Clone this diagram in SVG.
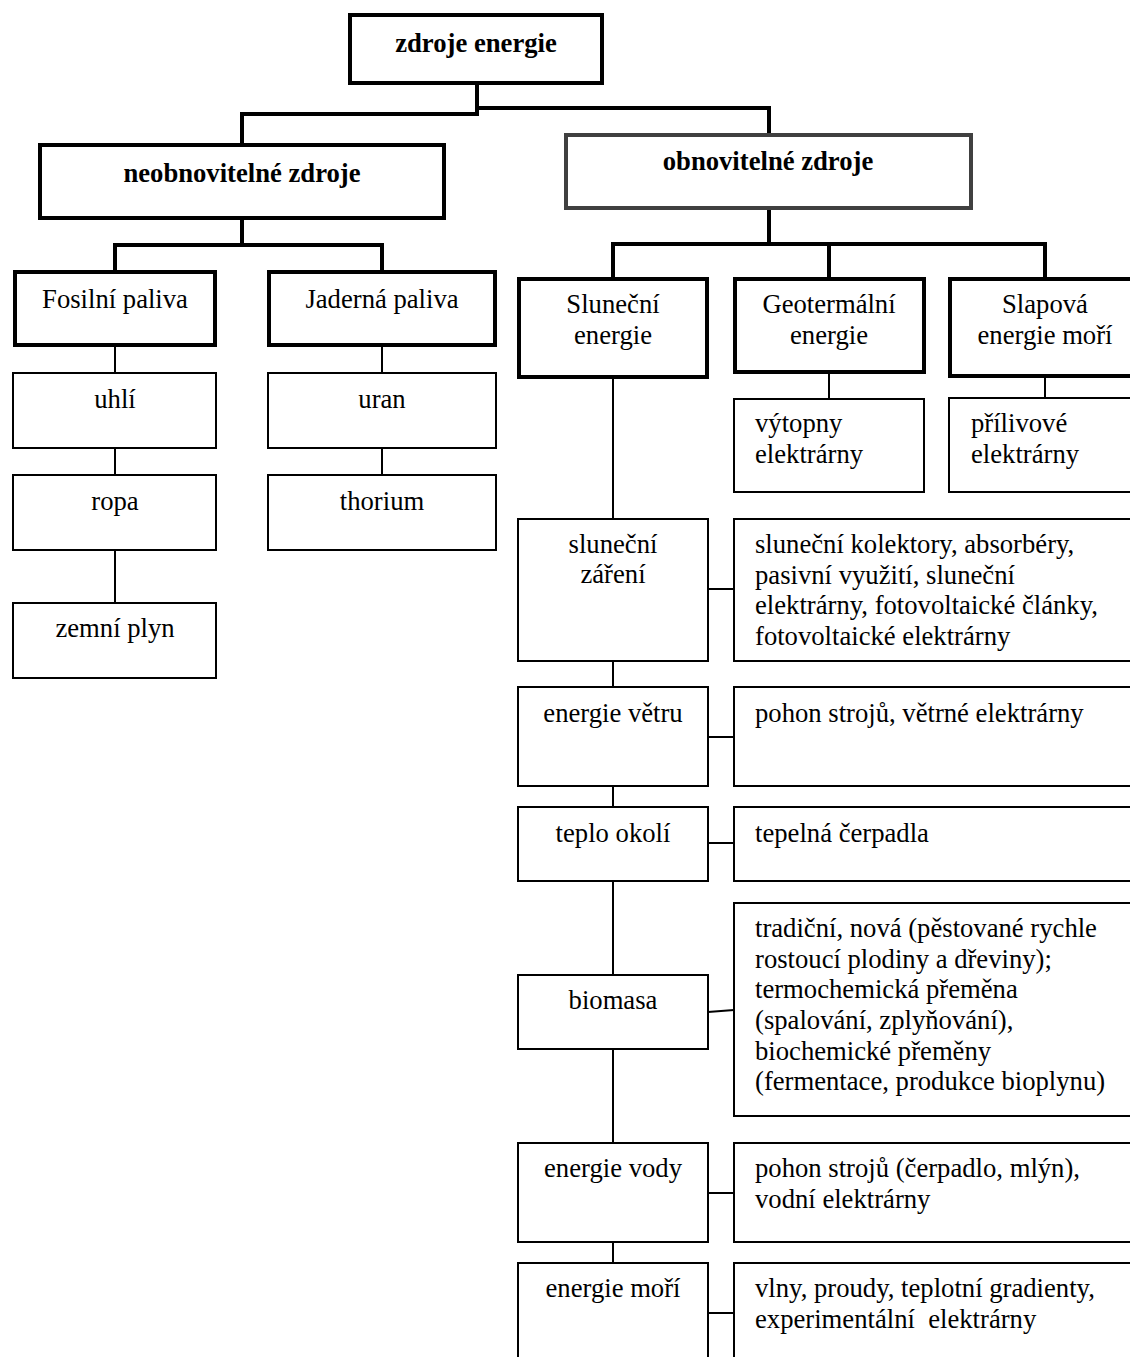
<svg xmlns="http://www.w3.org/2000/svg" width="1130" height="1357" viewBox="0 0 1130 1357">
<style>
text{font-family:"Liberation Serif","Times New Roman",serif;font-size:26.67px;fill:#000}
.b{font-weight:bold}
.c{text-anchor:middle}
.thick{fill:#fff;stroke:#000;stroke-width:4}
.gray{fill:#fff;stroke:#404040;stroke-width:4}
.thin{fill:#fff;stroke:#000;stroke-width:2}
.ct{fill:none;stroke:#000;stroke-width:4}
.cn{fill:none;stroke:#000;stroke-width:2}
</style>
<rect width="1130" height="1357" fill="#fff"/>
<g id="connectors">
<path class="ct" d="M477 85 V114 H242 V145 M477 108 H769 V135 M242 220 V245 M115 245 H382 M115 243 V272 M382 243 V272 M769 210 V244 M613 244 H1045 M613 242 V279 M829 242 V279 M1045 242 V279"/>
<path class="cn" d="M115 347 V373 M115 449 V475 M115 551 V603 M382 347 V373 M382 449 V475 M829 374 V399 M1045 378 V398 M613 379 V519 M613 662 V687 M613 787 V807 M613 882 V975 M613 1050 V1143 M613 1243 V1263 M708 589 H734 M708 737 H734 M708 843 H734 M708 1012 L734 1010 M708 1193 H734 M708 1313 H734"/>
</g>
<g id="zdroje-energie"><rect class="thick" x="350" y="15" width="252" height="68"/><text class="b c" x="476" y="52">zdroje energie</text></g>
<g id="neobnovitelne"><rect class="thick" x="40" y="145" width="404" height="73"/><text class="b c" x="242" y="182">neobnovitelné zdroje</text></g>
<g id="obnovitelne"><rect class="gray" x="566" y="135" width="405" height="73"/><text class="b c" x="768" y="170">obnovitelné zdroje</text></g>
<g id="fosilni"><rect class="thick" x="15" y="272" width="200" height="73"/><text class="c" x="115" y="308">Fosilní paliva</text></g>
<g id="jaderna"><rect class="thick" x="269" y="272" width="226" height="73"/><text class="c" x="382" y="308">Jaderná paliva</text></g>
<g id="uhli"><rect class="thin" x="13" y="373" width="203" height="75"/><text class="c" x="115" y="408">uhlí</text></g>
<g id="ropa"><rect class="thin" x="13" y="475" width="203" height="75"/><text class="c" x="115" y="510">ropa</text></g>
<g id="zemni-plyn"><rect class="thin" x="13" y="603" width="203" height="75"/><text class="c" x="115" y="637">zemní plyn</text></g>
<g id="uran"><rect class="thin" x="268" y="373" width="228" height="75"/><text class="c" x="382" y="408">uran</text></g>
<g id="thorium"><rect class="thin" x="268" y="475" width="228" height="75"/><text class="c" x="382" y="510">thorium</text></g>
<g id="slunecni-energie"><rect class="thick" x="519" y="279" width="188" height="98"/><text class="c" x="613" y="313">Sluneční</text><text class="c" x="613" y="344">energie</text></g>
<g id="geotermalni"><rect class="thick" x="735" y="279" width="189" height="93"/><text class="c" x="829" y="313">Geotermální</text><text class="c" x="829" y="344">energie</text></g>
<g id="slapova"><rect class="thick" x="950" y="279" width="200" height="97"/><text class="c" x="1045" y="313">Slapová</text><text class="c" x="1045" y="344">energie moří</text></g>
<g id="vytopny"><rect class="thin" x="734" y="399" width="190" height="93"/><text x="755" y="432">výtopny</text><text x="755" y="463">elektrárny</text></g>
<g id="prilivove"><rect class="thin" x="949" y="398" width="200" height="94"/><text x="971" y="432">přílivové</text><text x="971" y="463">elektrárny</text></g>
<g id="slunecni-zareni"><rect class="thin" x="518" y="519" width="190" height="142"/><text class="c" x="613" y="553">sluneční</text><text class="c" x="613" y="583">záření</text></g>
<g id="slunecni-vyuziti"><rect class="thin" x="734" y="519" width="420" height="142"/><text x="755" y="553">sluneční kolektory, absorbéry,</text><text x="755" y="584">pasivní využití, sluneční</text><text x="755" y="614">elektrárny, fotovoltaické články,</text><text x="755" y="645">fotovoltaické elektrárny</text></g>
<g id="energie-vetru"><rect class="thin" x="518" y="687" width="190" height="99"/><text class="c" x="613" y="722">energie větru</text></g>
<g id="vetru-vyuziti"><rect class="thin" x="734" y="687" width="420" height="99"/><text x="755" y="722">pohon strojů, větrné elektrárny</text></g>
<g id="teplo-okoli"><rect class="thin" x="518" y="807" width="190" height="74"/><text class="c" x="613" y="842">teplo okolí</text></g>
<g id="teplo-vyuziti"><rect class="thin" x="734" y="807" width="420" height="74"/><text x="755" y="842">tepelná čerpadla</text></g>
<g id="biomasa"><rect class="thin" x="518" y="975" width="190" height="74"/><text class="c" x="613" y="1009">biomasa</text></g>
<g id="biomasa-vyuziti"><rect class="thin" x="734" y="903" width="420" height="213"/><text x="755" y="937">tradiční, nová (pěstované rychle</text><text x="755" y="968">rostoucí plodiny a dřeviny);</text><text x="755" y="998">termochemická přeměna</text><text x="755" y="1029">(spalování, zplyňování),</text><text x="755" y="1060">biochemické přeměny</text><text x="755" y="1090">(fermentace, produkce bioplynu)</text></g>
<g id="energie-vody"><rect class="thin" x="518" y="1143" width="190" height="99"/><text class="c" x="613" y="1177">energie vody</text></g>
<g id="vody-vyuziti"><rect class="thin" x="734" y="1143" width="420" height="99"/><text x="755" y="1177">pohon strojů (čerpadlo, mlýn),</text><text x="755" y="1208">vodní elektrárny</text></g>
<g id="energie-mori"><rect class="thin" x="518" y="1263" width="190" height="110"/><text class="c" x="613" y="1297">energie moří</text></g>
<g id="mori-vyuziti"><rect class="thin" x="734" y="1263" width="420" height="110"/><text x="755" y="1297">vlny, proudy, teplotní gradienty,</text><text x="755" y="1328" style="white-space:pre">experimentální  elektrárny</text></g>
</svg>
